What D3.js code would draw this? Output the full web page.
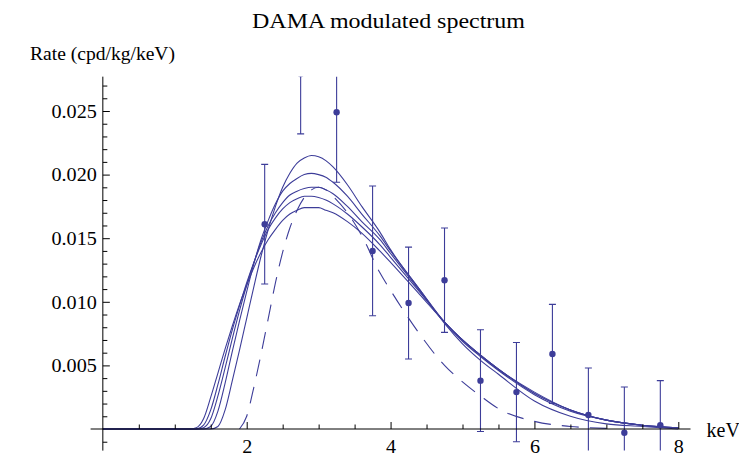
<!DOCTYPE html>
<html>
<head>
<meta charset="utf-8">
<script src="https://cdn.jsdelivr.net/npm/d3@7"></script>
<style>
  html, body { margin: 0; padding: 0; background: #fff; }
  svg { display: block; }
  text { font-family: "Liberation Serif", "DejaVu Serif", serif; fill: #000; }
</style>
</head>
<body>
<svg id="chart" width="739" height="455"></svg>
<script>
// ---------------- data ----------------
const chartTitle = "DAMA modulated spectrum";
const yLabel = "Rate (cpd/kg/keV)";
const xLabel = "keV";

const xTickLabels = [2, 4, 6, 8];
const yTickLabels = [0.005, 0.010, 0.015, 0.020, 0.025];

// DAMA bins (keV) with measured modulation amplitude and error
const binCenters = [2.25, 2.75, 3.25, 3.75, 4.25, 4.75, 5.25, 5.75, 6.25, 6.75, 7.25, 7.75];
const rates      = [0.0161, 0.0279, 0.0249, 0.0140, 0.0099, 0.0117, 0.0038, 0.0029, 0.0059, 0.0011, -0.0003, 0.0003];
const rateErrors = [0.0047, 0.0047, 0.0055, 0.0051, 0.0044, 0.0041, 0.0040, 0.0039, 0.0039, 0.0037, 0.0036, 0.0035];

// model curves sampled at common energies
const energies = [0, 1.2, 1.3, 1.4, 1.5, 1.6, 1.7, 1.8, 1.9, 2.0, 2.1, 2.2, 2.3, 2.4, 2.5, 2.6, 2.7, 2.8, 2.9, 3.0, 3.1, 3.2, 3.4, 3.6, 3.85, 4.0, 4.4, 4.75, 5.0, 5.25, 5.5, 6.0, 6.5, 7.0, 7.5, 8.0];
const curve1 = [0, 0, 0.0001, 0.0008, 0.0025, 0.0044, 0.0063, 0.0081, 0.0098, 0.0113, 0.0127, 0.0139, 0.0149, 0.0157, 0.0164, 0.0169, 0.0172, 0.0174, 0.0174, 0.0174, 0.0172, 0.0170, 0.0163, 0.0154, 0.0140, 0.0131, 0.0106, 0.0084, 0.0070, 0.0058, 0.0047, 0.0029, 0.0015, 0.0007, 0.0003, 0.0001];
const curve2 = [0, 0, 0, 0.0003, 0.0015, 0.0035, 0.0057, 0.0078, 0.0097, 0.0115, 0.0131, 0.0145, 0.0157, 0.0166, 0.0173, 0.0178, 0.0181, 0.0183, 0.0183, 0.0182, 0.0180, 0.0177, 0.0169, 0.0159, 0.0145, 0.0135, 0.0108, 0.0084, 0.0070, 0.0058, 0.0047, 0.0028, 0.0015, 0.0007, 0.0003, 0.0001];
const curve3 = [0, 0, 0, 0.0001, 0.0008, 0.0026, 0.0048, 0.0071, 0.0093, 0.0113, 0.0131, 0.0147, 0.0160, 0.0170, 0.0178, 0.0184, 0.0187, 0.0189, 0.0190, 0.0190, 0.0188, 0.0185, 0.0175, 0.0163, 0.0149, 0.0138, 0.0109, 0.0084, 0.0070, 0.0058, 0.0047, 0.0028, 0.0015, 0.0007, 0.0003, 0.0001];
const curve4 = [0, 0, 0, 0, 0.0002, 0.0014, 0.0036, 0.0061, 0.0085, 0.0108, 0.0130, 0.0149, 0.0164, 0.0177, 0.0187, 0.0193, 0.0197, 0.0200, 0.0201, 0.0200, 0.0198, 0.0194, 0.0183, 0.0169, 0.0152, 0.0140, 0.0110, 0.0084, 0.0069, 0.0057, 0.0046, 0.0027, 0.0014, 0.0007, 0.0003, 0.0001];
const curve5 = [0, 0, 0, 0, 0, 0.0002, 0.0015, 0.0038, 0.0062, 0.0087, 0.0112, 0.0136, 0.0157, 0.0175, 0.0190, 0.0201, 0.0209, 0.0213, 0.0215, 0.0214, 0.0211, 0.0206, 0.0192, 0.0175, 0.0155, 0.0141, 0.0110, 0.0083, 0.0067, 0.0054, 0.0043, 0.0022, 0.0010, 0.0004, 0.0002, 0.0000];
const curveDashed = [0, 0, 0, 0, 0, 0, 0, 0, 0, 0.0010, 0.0033, 0.0059, 0.0087, 0.0115, 0.0139, 0.0158, 0.0172, 0.0182, 0.0188, 0.0190, 0.0188, 0.0183, 0.0170, 0.0152, 0.0123, 0.0109, 0.0075, 0.0050, 0.0037, 0.0026, 0.0016, 0.0006, 0.0002, 0.00005, 0, 0];

// ---------------- layout ----------------
const W = 739, H = 455;
const color = "#3d3d99";
const svg = d3.select("#chart");

const x = d3.scaleLinear().domain([2, 8]).range([246.7, 678.3]);
const y = d3.scaleLinear().domain([0, 0.025]).range([429, 111]);

const xMin = -0.17, xMax = 8.17, yMin = -0.0017, yMax = 0.0277;

svg.append("defs").append("clipPath").attr("id", "plotclip")
  .append("rect")
  .attr("x", x(xMin)).attr("y", y(yMax))
  .attr("width", x(xMax) - x(xMin)).attr("height", y(yMin) - y(yMax));

// title
svg.append("text")
  .attr("x", 388.5).attr("y", 28)
  .attr("text-anchor", "middle")
  .attr("font-size", 21)
  .attr("textLength", 273).attr("lengthAdjust", "spacingAndGlyphs")
  .text(chartTitle);

// y label
svg.append("text")
  .attr("x", 30).attr("y", 60)
  .attr("font-size", 19)
  .attr("textLength", 145).attr("lengthAdjust", "spacingAndGlyphs")
  .text(yLabel);

// x label
svg.append("text")
  .attr("x", 706.5).attr("y", 437)
  .attr("font-size", 20)
  .text(xLabel);

// ---------------- curves ----------------
const plot = svg.append("g").attr("clip-path", "url(#plotclip)");
const line = d3.line().x(d => x(d[0])).y(d => y(d[1])).curve(d3.curveMonotoneX);

[curve1, curve2, curve3, curve4, curve5].forEach(c => {
  plot.append("path")
    .attr("d", line(energies.map((e, i) => [e, c[i]])))
    .attr("fill", "none").attr("stroke", color).attr("stroke-width", 1.1);
});
plot.append("path")
  .attr("d", line(energies.map((e, i) => [e, curveDashed[i]]).filter(d => d[0] >= 1.9 && d[0] <= 7.0)))
  .attr("fill", "none").attr("stroke", color).attr("stroke-width", 1.1)
  .attr("stroke-dasharray", "17,11");

// ---------------- axes ----------------
const font = '"Liberation Serif", "DejaVu Serif", serif';

// x-axis line
svg.append("line")
  .attr("x1", x(xMin)).attr("x2", x(xMax))
  .attr("y1", y(0)).attr("y2", y(0))
  .attr("stroke", "#000").attr("stroke-width", 1);
// y-axis line
svg.append("line")
  .attr("x1", x(0)).attr("x2", x(0))
  .attr("y1", y(yMax)).attr("y2", y(yMin))
  .attr("stroke", "#000").attr("stroke-width", 1);

// x minor ticks
const xMinor = d3.range(0.5, 8.01, 0.5).filter(v => xTickLabels.indexOf(v) < 0);
const gxm = svg.append("g").attr("transform", `translate(0,${y(0)})`)
  .call(d3.axisBottom(x).tickValues(xMinor).tickSize(-4.5).tickFormat(""));
gxm.select(".domain").remove();

// x major ticks
const gx = svg.append("g").attr("transform", `translate(0,${y(0)})`)
  .call(d3.axisBottom(x).tickValues(xTickLabels).tickSize(-7).tickFormat(d3.format("d")));
gx.select(".domain").remove();
gx.selectAll("text")
  .attr("y", 0).attr("dy", null)
  .attr("transform", "translate(0,23.5) scale(1.12,1)")
  .attr("font-size", 18).attr("font-family", font).attr("fill", "#000");

// y minor ticks
const yMinor = d3.range(-1, 28, 1).map(v => v / 1000).filter(v => Math.abs(v * 200 - Math.round(v * 200)) > 1e-9);
const gym = svg.append("g").attr("transform", `translate(${x(0)},0)`)
  .call(d3.axisLeft(y).tickValues(yMinor).tickSize(-4.5).tickFormat(""));
gym.select(".domain").remove();

// y major ticks
const gy = svg.append("g").attr("transform", `translate(${x(0)},0)`)
  .call(d3.axisLeft(y).tickValues(yTickLabels).tickSize(-7).tickFormat(d3.format(".3f")));
gy.select(".domain").remove();
gy.selectAll("text")
  .attr("x", 0).attr("dy", "0.35em")
  .attr("transform", "translate(-6,0) scale(1.12,1)")
  .attr("font-size", 18).attr("font-family", font).attr("fill", "#000");

svg.selectAll(".tick line").attr("stroke", "#000");

// ---------------- data with error bars ----------------
const pts = binCenters.map((c, i) => ({ e: c, r: rates[i], s: rateErrors[i] }));
const eb = plot.append("g");
const cap = 3.5;
pts.forEach(d => {
  const px = x(d.e);
  eb.append("line").attr("x1", px).attr("x2", px)
    .attr("y1", y(d.r + d.s)).attr("y2", y(d.r - d.s))
    .attr("stroke", color).attr("stroke-width", 1.1);
  [d.r + d.s, d.r - d.s].forEach(v => {
    eb.append("line").attr("x1", px - cap).attr("x2", px + cap)
      .attr("y1", y(v)).attr("y2", y(v))
      .attr("stroke", color).attr("stroke-width", 1.1);
  });
});
plot.append("g").selectAll("circle").data(pts).join("circle")
  .attr("cx", d => x(d.e)).attr("cy", d => y(d.r)).attr("r", 3.2)
  .attr("fill", color);
</script>
</body>
</html>
